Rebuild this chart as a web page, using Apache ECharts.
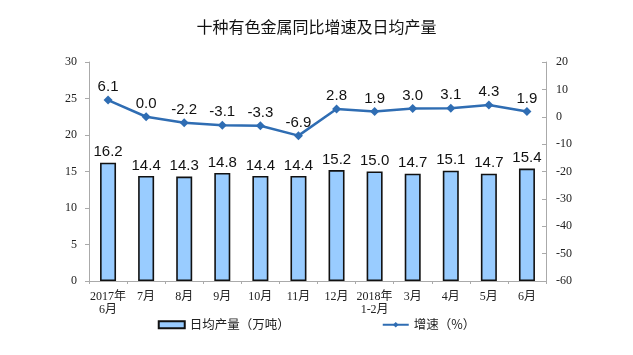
<!DOCTYPE html>
<html><head><meta charset="utf-8">
<script src="https://cdn.jsdelivr.net/npm/echarts@6/dist/echarts.min.js"></script>
<style>html,body{margin:0;padding:0;background:#fff}#c{width:633px;height:355px}</style>
</head><body><div id="c"></div>
<script>
const categories = ['2017年\n6月','7月','8月','9月','10月','11月','12月','2018年\n1-2月','3月','4月','5月','6月'];
const dailyOutput = [16.2,14.4,14.3,14.8,14.4,14.4,15.2,15.0,14.7,15.1,14.7,15.4];
const growth = [6.1,0.0,-2.2,-3.1,-3.3,-6.9,2.8,1.9,3.0,3.1,4.3,1.9];
const leftTicks = {min:0,max:30,interval:5};
const rightTicks = {min:-60,max:20,interval:10};

const chart = echarts.init(document.getElementById('c'));
const axisFont = {fontFamily:"'Liberation Serif','Noto Sans CJK SC',serif",fontSize:12,color:'#222'};
chart.setOption({
  animation:false,
  title:{text:'十种有色金属同比增速及日均产量',left:'center',top:14,
    textStyle:{fontFamily:"'Noto Sans CJK SC',sans-serif",fontSize:16,fontWeight:'normal',color:'#111'}},
  grid:{left:89,right:87,top:62,bottom:74},
  legend:{bottom:19,left:'center',itemGap:92,itemWidth:26,itemHeight:7,
    textStyle:{fontFamily:"'Noto Sans CJK SC',sans-serif",fontSize:12.5,color:'#222'},
    data:[{name:'日均产量（万吨）',icon:'rect'},{name:'增速（%）'}]},
  xAxis:{type:'category',data:categories,
    axisLine:{lineStyle:{color:'#aaa'}},
    axisTick:{show:true,length:3,lineStyle:{color:'#aaa'}},
    axisLabel:Object.assign({margin:9,interval:0,lineHeight:13},axisFont)},
  yAxis:[
    Object.assign({type:'value',position:'left',splitLine:{show:false},
      axisLine:{show:true,lineStyle:{color:'#aaa'}},axisTick:{show:true,length:4,lineStyle:{color:'#aaa'}},
      axisLabel:Object.assign({margin:12},axisFont)},leftTicks),
    Object.assign({type:'value',position:'right',splitLine:{show:false},
      axisLine:{show:true,lineStyle:{color:'#aaa'}},axisTick:{show:true,inside:true,length:4,lineStyle:{color:'#aaa'}},
      axisLabel:Object.assign({margin:10},axisFont)},rightTicks)
  ],
  series:[
    {name:'日均产量（万吨）',type:'bar',data:dailyOutput,barWidth:16,
      itemStyle:{color:'#99ccff',borderColor:'#111',borderWidth:1.6},
      label:{show:true,position:'top',distance:3,fontFamily:"'Liberation Sans',Arial,sans-serif",fontSize:15,color:'#111',
        formatter:p=>p.value.toFixed(1)}},
    {name:'增速（%）',type:'line',yAxisIndex:1,data:growth,
      symbol:'diamond',symbolSize:9,
      lineStyle:{color:'#2f6db3',width:2.5},itemStyle:{color:'#2f6db3'},
      label:{show:true,position:'top',distance:1,fontFamily:"'Liberation Sans',Arial,sans-serif",fontSize:15,color:'#111',
        formatter:p=>p.value.toFixed(1)}}
  ]
});
</script></body></html>
